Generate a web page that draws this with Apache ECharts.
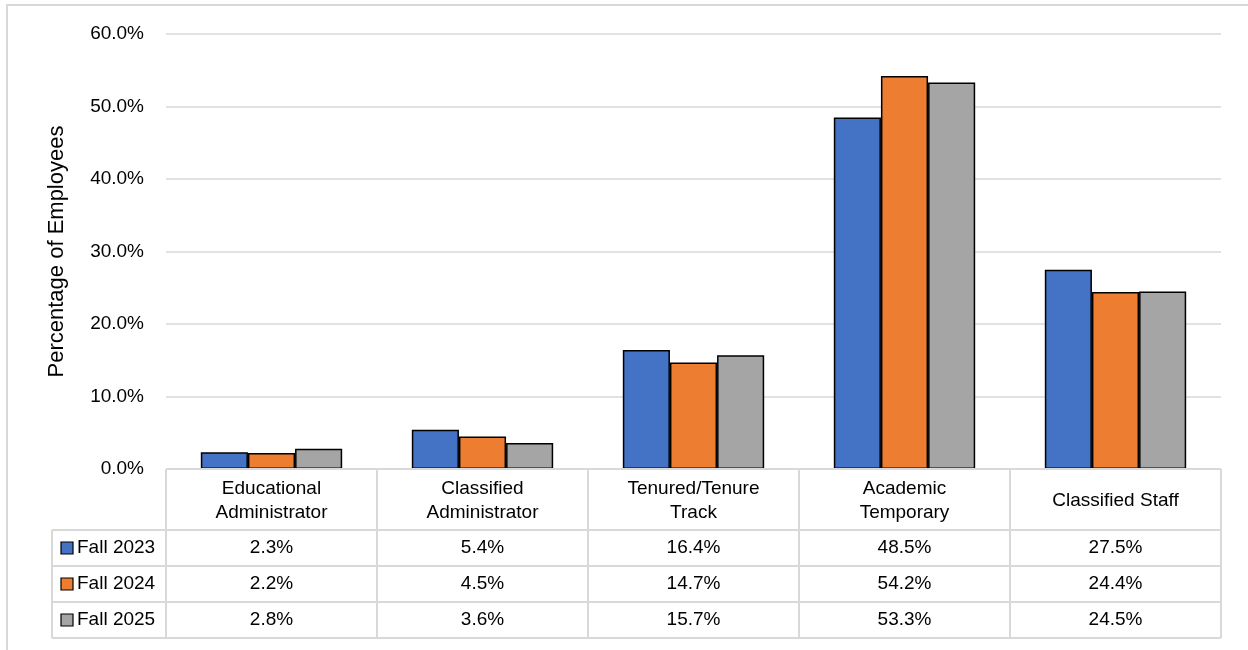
<!DOCTYPE html>
<html><head><meta charset="utf-8">
<script src="https://cdn.jsdelivr.net/npm/echarts@6/dist/echarts.min.js"></script>
<style>html,body{margin:0;padding:0;background:#fff}#c{width:1248px;height:650px}</style>
</head><body><div id="c"></div>
<script>
const categories = ['Educational\nAdministrator', 'Classified\nAdministrator', 'Tenured/Tenure\nTrack', 'Academic\nTemporary', 'Classified Staff'];
const seriesNames = ['Fall 2023', 'Fall 2024', 'Fall 2025'];
const fall2023 = [2.3, 5.4, 16.4, 48.5, 27.5];
const fall2024 = [2.2, 4.5, 14.7, 54.2, 24.4];
const fall2025 = [2.8, 3.6, 15.7, 53.3, 24.5];
const colors = ['#4472c4', '#ed7d31', '#a5a5a5'];
const yTicks = [0, 10, 20, 30, 40, 50, 60];

const FONT = "'Liberation Sans Narrow', 'Arial Narrow', 'Liberation Sans', Arial, sans-serif";
const W = 1248, H = 650;
const gl = 166, gr = 1221, gt = 34, gb = 469;
const rowY = [469, 530, 566, 602, 638];
const legX = 52;
const lineColor = '#d9d9d9';
const allSeries = [fall2023, fall2024, fall2025];

const chart = echarts.init(document.getElementById('c'), null, {renderer: 'canvas'});
const option = {
  animation: false,
  textStyle: {fontFamily: FONT},
  grid: {left: gl, right: W - gr, top: gt, bottom: H - gb},
  xAxis: {
    type: 'category', data: categories,
    axisLine: {show: false}, axisTick: {show: false}, axisLabel: {show: false}
  },
  yAxis: {
    type: 'value', min: yTicks[0], max: yTicks[yTicks.length - 1], interval: 10,
    name: 'Percentage of Employees', nameLocation: 'middle', nameGap: 98,
    nameTextStyle: {fontSize: 22, color: '#000', fontFamily: FONT},
    axisLabel: {formatter: v => v.toFixed(1) + '%', fontSize: 19, color: '#000', fontFamily: FONT, margin: 22},
    splitLine: {lineStyle: {color: lineColor, width: 1.5}},
    axisLine: {show: false}, axisTick: {show: false}
  },
  series: allSeries.map((d, i) => ({
    name: seriesNames[i], type: 'bar', data: d,
    barGap: '0%', barCategoryGap: '33%',
    itemStyle: {color: colors[i], borderColor: '#000', borderWidth: 1.5}
  }))
};
chart.setOption(option);

// data table drawn as graphic elements from the arrays
const g = [];
g.push({type: 'rect', shape: {x: 7, y: 5, width: 1300, height: 700}, style: {fill: 'none', stroke: lineColor, lineWidth: 2}, silent: true, z: -1});
const colW = (gr - gl) / categories.length;
g.push({type: 'line', shape: {x1: gl, y1: rowY[0], x2: gr, y2: rowY[0]}, style: {stroke: lineColor, lineWidth: 2}, z: 10});
for (let r = 1; r < rowY.length; r++) {
  g.push({type: 'line', shape: {x1: legX, y1: rowY[r], x2: gr, y2: rowY[r]}, style: {stroke: lineColor, lineWidth: 2}, z: 10});
}
for (let c = 0; c <= categories.length; c++) {
  const x = gl + c * colW;
  g.push({type: 'line', shape: {x1: x, y1: rowY[0], x2: x, y2: rowY[rowY.length - 1]}, style: {stroke: lineColor, lineWidth: 2}, z: 10});
}
g.push({type: 'line', shape: {x1: legX, y1: rowY[1], x2: legX, y2: rowY[rowY.length - 1]}, style: {stroke: lineColor, lineWidth: 2}, z: 10});
categories.forEach((c, i) => {
  g.push({type: 'text', x: gl + (i + 0.5) * colW, y: (rowY[0] + rowY[1]) / 2 + 1,
    style: {text: c, font: '19px ' + FONT, fill: '#000', align: 'center', verticalAlign: 'middle', lineHeight: 24}, z: 11});
});
allSeries.forEach((d, r) => {
  const yc = (rowY[r + 1] + rowY[r + 2]) / 2;
  g.push({type: 'rect', shape: {x: 61, y: yc - 6, width: 12, height: 12}, style: {fill: colors[r], stroke: '#000', lineWidth: 1.2}, z: 11});
  g.push({type: 'text', x: 77, y: yc, style: {text: seriesNames[r], font: '19px ' + FONT, fill: '#000', align: 'left', verticalAlign: 'middle'}, z: 11});
  d.forEach((v, i) => {
    g.push({type: 'text', x: gl + (i + 0.5) * colW, y: yc, style: {text: v.toFixed(1) + '%', font: '19px ' + FONT, fill: '#000', align: 'center', verticalAlign: 'middle'}, z: 11});
  });
});
chart.setOption({graphic: {elements: g}});
</script></body></html>
